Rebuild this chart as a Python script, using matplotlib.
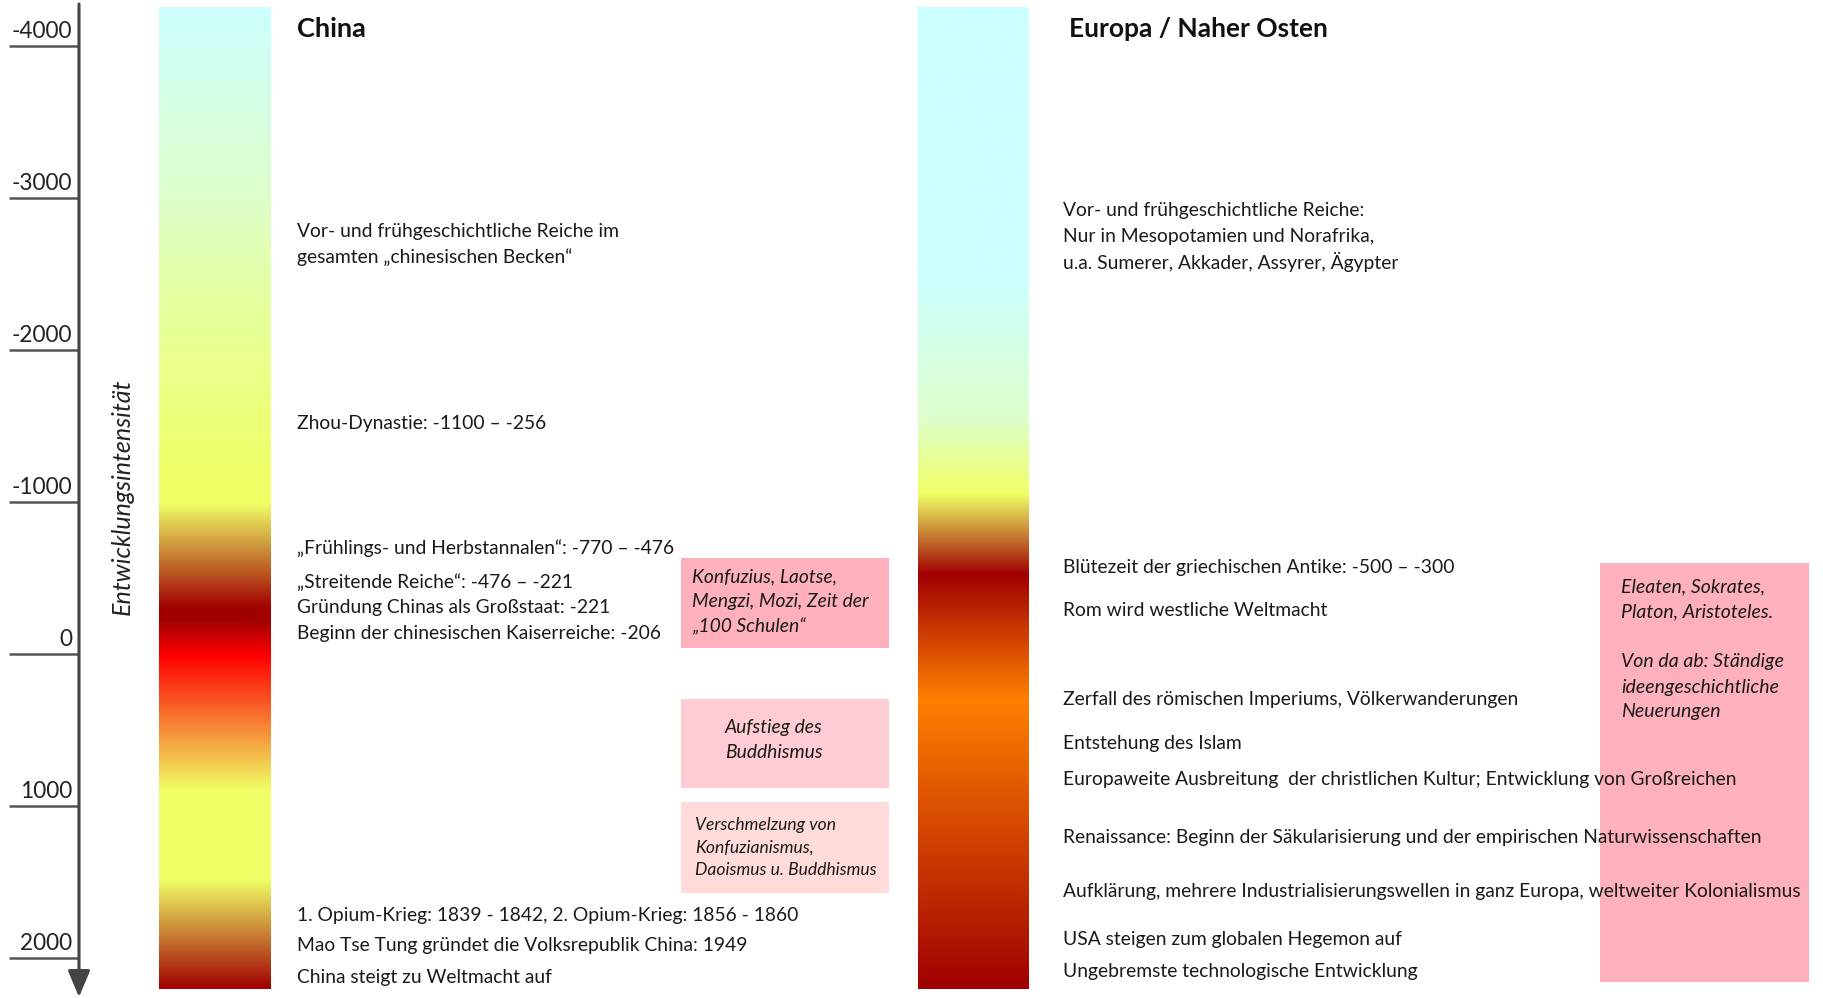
import numpy as np
import matplotlib.pyplot as plt
from matplotlib.colors import to_rgb
from matplotlib.patches import Rectangle

plt.rcParams['font.family'] = ['Lato', 'DejaVu Sans']

W, H = 1823, 998

# time axis
tick_years = [-4000, -3000, -2000, -1000, 0, 1000, 2000]
tick_labels = ['-4000', '-3000', '-2000', '-1000', '0', '1000', '2000']

# colour stops of the "Entwicklungsintensitaet" bars, by year
china_years = [-4250, -3046, -2211, -1164, -990, -300, -220, 13, 900, 1487, 2204]
china_colors = ['#CCFFFF', '#DDFFCC', '#E6FF99', '#F0FF66', '#F0FF66', '#A00000',
                '#A00000', '#FF0000', '#F0FF66', '#F0FF66', '#A00000']
europe_years = [-4250, -2460, -1550, -1050, -520, 303, 2204]
europe_colors = ['#CCFFFF', '#CCFFFF', '#DDFFCC', '#F0FF66', '#A00000', '#FF8000', '#A00000']

china_events = [
  'Vor- und frühgeschichtliche Reiche im',
  'gesamten „chinesischen Becken“',
  'Zhou-Dynastie: -1100 – -256',
  '„Frühlings- und Herbstannalen“: -770 – -476',
  '„Streitende Reiche“: -476 – -221',
  'Gründung Chinas als Großstaat: -221',
  'Beginn der chinesischen Kaiserreiche: -206',
  '1. Opium-Krieg: 1839 - 1842, 2. Opium-Krieg: 1856 - 1860',
  'Mao Tse Tung gründet die Volksrepublik China: 1949',
  'China steigt zu Weltmacht auf',
]
europe_events = [
  'Vor- und frühgeschichtliche Reiche:',
  'Nur in Mesopotamien und Norafrika,',
  'u.a. Sumerer, Akkader, Assyrer, Ägypter',
  'Blütezeit der griechischen Antike: -500 – -300',
  'Rom wird westliche Weltmacht',
  'Zerfall des römischen Imperiums, Völkerwanderungen',
  'Entstehung des Islam',
  'Europaweite Ausbreitung  der christlichen Kultur; Entwicklung von Großreichen',
  'Renaissance: Beginn der Säkularisierung und der empirischen Naturwissenschaften',
  'Aufklärung, mehrere Industrialisierungswellen in ganz Europa, weltweiter Kolonialismus',
  'USA steigen zum globalen Hegemon auf',
  'Ungebremste technologische Entwicklung',
]
china_notes = [
  'Konfuzius, Laotse,\nMengzi, Mozi, Zeit der\n„100 Schulen“',
  'Aufstieg des\nBuddhismus',
  'Verschmelzung von\nKonfuzianismus,\nDaoismus u. Buddhismus',
]
europe_note = 'Eleaten, Sokrates,\nPlaton, Aristoteles.\n\nVon da ab: Ständige\nideengeschichtliche\nNeuerungen'

# layout (pixels)
china_event_y = [231, 257, 423, 548, 582, 608, 634, 916, 945, 978]
europe_event_y = [210, 236, 262, 568, 610, 699, 743, 780, 838, 891, 939, 972]
china_boxes = [(681, 558, 208, 90), (681, 699, 208, 89), (681, 802, 208, 91)]
china_box_colors = ['#FFB0BD', '#FFCCD3', '#FFDCD9']
china_note_pos = [(692, 577, 25), (725, 728, 24), (695, 825, 22.5)]
europe_box = (1600, 563, 209, 419)

# year <-> pixel anchors of the time axis
p0, p1 = 46, 958
px_per_year = (p1 - p0) / 6000.0
y_top = -4000 - p0 / px_per_year
y_bot = 2000 + (H - p1) / px_per_year

fig = plt.figure(figsize=(W / 100, H / 100), dpi=100)
ax = fig.add_axes([0, 0, 1, 1])
ax.set_xlim(0, W)
ax.set_ylim(y_bot, y_top)
ax.axis('off')

lay = fig.add_axes([0, 0, 1, 1])
lay.set_xlim(0, W)
lay.set_ylim(H, 0)
lay.axis('off')
lay.patch.set_alpha(0)


def gradient(x0, x1, years, colors):
  ys = np.linspace(years[0], years[-1], 1200)
  rgb = np.array([to_rgb(c) for c in colors])
  img = np.stack([np.interp(ys, years, rgb[:, k]) for k in range(3)], axis=1)
  ax.imshow(img[:, None, :], extent=[x0, x1, years[-1], years[0]],
            origin='upper', aspect='auto', interpolation='bilinear', zorder=1)


gradient(159, 271, china_years, china_colors)
gradient(918, 1029, europe_years, europe_colors)

# time axis with arrow
ax.annotate('', xy=(79, y_top + 997 / px_per_year), xytext=(79, y_top + 4 / px_per_year),
            arrowprops=dict(arrowstyle='-|>,head_length=0.9,head_width=0.38', lw=2.2,
                            color='#444444', mutation_scale=18, shrinkA=0, shrinkB=0))
ax.hlines(tick_years, 9, 79, color='#555555', lw=1.8)
for yr, lab in zip(tick_years, tick_labels):
  ax.annotate(lab, xy=(72, yr), xytext=(0, 6), textcoords='offset points',
              ha='right', va='baseline', fontsize=16.3, color='#222222')

lay.text(122, 497, 'Entwicklungsintensität', rotation=90, style='italic',
         ha='center', va='center', fontsize=18, color='#222222')

# titles
lay.text(297, 29, 'China', fontsize=19.5, fontweight='bold', va='center', color='#111111')
lay.text(1069, 29, 'Europa / Naher Osten', fontsize=19, fontweight='bold', va='center',
         color='#111111')

txt = dict(fontsize=13.9, va='center', color='#1a1a1a', zorder=5)
for s, y in zip(china_events, china_event_y):
  lay.text(297, y, s, **txt)
for s, y in zip(europe_events, europe_event_y):
  lay.text(1063, y, s, **txt)

# note boxes
for (x, y, w, h), c in zip(china_boxes, china_box_colors):
  lay.add_patch(Rectangle((x, y), w, h, facecolor=c, edgecolor='none', zorder=2))
lay.add_patch(Rectangle(europe_box[:2], europe_box[2], europe_box[3],
                        facecolor='#FFB0BD', edgecolor='none', zorder=2))

note_sizes = [13.9, 13.9, 12.6]
for note, (x, y, dy), fs in zip(china_notes, china_note_pos, note_sizes):
  for i, line in enumerate(note.split('\n')):
    lay.text(x, y + i * dy, line, style='italic', fontsize=fs, va='center',
             color='#1a1a1a', zorder=5)
for i, line in enumerate(europe_note.split('\n')):
  lay.text(1621, 587 + i * 25, line, style='italic', fontsize=14, va='center',
           color='#1a1a1a', zorder=5)

fig.savefig('out.png', dpi=100, facecolor='white')
